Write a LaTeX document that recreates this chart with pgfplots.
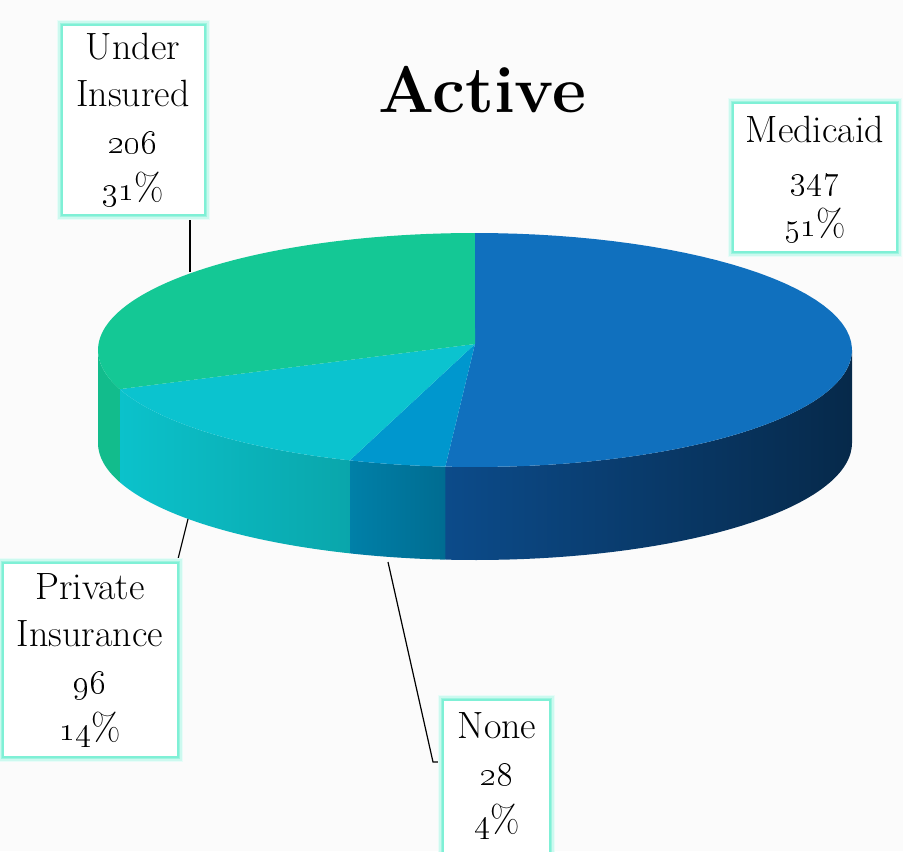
\documentclass[border=0pt]{standalone}
\usepackage{pgfplots}
\pgfplotsset{compat=1.18}
\definecolor{medTop}{HTML}{1070BE}
\definecolor{noneTop}{HTML}{0097CE}
\definecolor{privTop}{HTML}{0BC3CF}
\definecolor{undTop}{HTML}{14C895}
\definecolor{medWallL}{HTML}{0C4B8A}
\definecolor{medWallR}{HTML}{06294A}
\definecolor{noneWallL}{HTML}{0080A8}
\definecolor{noneWallR}{HTML}{006C91}
\definecolor{privWallL}{HTML}{0BC2CB}
\definecolor{privWallR}{HTML}{0AA6AB}
\definecolor{undWall}{HTML}{12BC8C}
\definecolor{glow}{HTML}{7FF0D6}

% data
\def\vMed{347}\def\vNone{28}\def\vPriv{96}\def\vUnder{206}
\pgfmathsetmacro\tot{\vMed+\vNone+\vPriv+\vUnder}
\pgfmathsetmacro\aA{-90}
\pgfmathsetmacro\aB{\aA+360*(\vMed/\tot)}
\pgfmathsetmacro\aC{\aB+360*(\vNone/\tot)}
\pgfmathsetmacro\aD{\aC+360*(\vPriv/\tot)}
\pgfmathsetmacro\aE{\aD+360*(\vUnder/\tot)}

\newcommand\cx{475}\newcommand\cy{350}\newcommand\rx{377}\newcommand\ry{117}\newcommand\dep{93}
\newcommand\vy{344}

\newcommand\topslice[3]{%
 \addplot[draw=none, fill=#3, samples at={0,1,...,61}]
 ({\cx+(x>0.5)*\rx*cos((#1)+(x-1)/60*((#2)-(#1)))},
  {(x>0.5)*(\cy+\ry*sin((#1)+(x-1)/60*((#2)-(#1))))+(x<0.5)*\vy});}

\newcommand\wall[3]{%
 \addplot[draw=none, #3, samples at={0,1,...,81}]
 ({\cx+\rx*cos((x<40.5)?((#1)+x/40*((#2)-(#1))):((#2)-(x-41)/40*((#2)-(#1))))},
  {\cy+\ry*sin((x<40.5)?((#1)+x/40*((#2)-(#1))):((#2)-(x-41)/40*((#2)-(#1))))+(x>40.5)*\dep});}

\newcommand\labbox[4]{%
  \draw[glow!18, line width=5pt] (axis cs:#1,#2) rectangle (axis cs:#3,#4);
  \draw[glow!40, line width=3.6pt] (axis cs:#1,#2) rectangle (axis cs:#3,#4);
  \draw[glow!75, line width=2.4pt] (axis cs:#1,#2) rectangle (axis cs:#3,#4);
  \draw[glow, line width=1.4pt, fill=white] (axis cs:#1,#2) rectangle (axis cs:#3,#4);}

\newcommand\labfont{\fontsize{19}{23.5}\selectfont}

\begin{document}
\begin{tikzpicture}
\fill[black!1.5] (0,0) rectangle (451.5pt,425.5pt);
\begin{axis}[at={(0,0)}, anchor=south west, width=451.5pt, height=425.5pt,
  scale only axis, xmin=0, xmax=903, ymin=0, ymax=851, y dir=reverse,
  hide axis, clip=false]
% walls (front half)
\wall{0}{\aB}{left color=medWallL, right color=medWallR}
\wall{\aB}{\aC}{left color=noneWallL, right color=noneWallR}
\wall{\aC}{\aD}{left color=privWallL, right color=privWallR}
\wall{\aD}{180}{fill=undWall}
% top faces
\topslice{\aA}{\aB}{medTop}
\topslice{\aB}{\aC}{noneTop}
\topslice{\aC}{\aD}{privTop}
\topslice{\aD}{\aE}{undTop}
% leader lines
\draw[black, line width=0.6pt] (axis cs:190,215) -- (axis cs:190,272);
\draw[black, line width=0.6pt] (axis cs:188,519) -- (axis cs:177,563);
\draw[black, line width=0.6pt] (axis cs:388,562) -- (axis cs:433,762) -- (axis cs:445,762);
% boxes
\labbox{62}{25}{205}{215}
\labbox{733}{103}{897}{252}
\labbox{3}{563}{178}{757}
\labbox{443}{700}{550}{860}
% labels
\node[font=\labfont, align=center] at (axis cs:133,120) {Under\\Insured\\\oldstylenums{206}\\\oldstylenums{31}\%};
\node[font=\labfont, align=center] at (axis cs:815,180) {Medicaid\\\oldstylenums{347}\\\oldstylenums{51}\%};
\node[font=\labfont, align=center] at (axis cs:90,660) {Private\\Insurance\\\oldstylenums{96}\\\oldstylenums{14}\%};
\node[font=\labfont, align=center] at (axis cs:497,776) {None\\\oldstylenums{28}\\\oldstylenums{4}\%};
% title
\node[font=\bfseries\fontsize{33}{40}\selectfont] at (axis cs:482,90) {Active};
\end{axis}
\pgfresetboundingbox
\path (0,0) rectangle (451.5pt,425.5pt);
\end{tikzpicture}
\end{document}
